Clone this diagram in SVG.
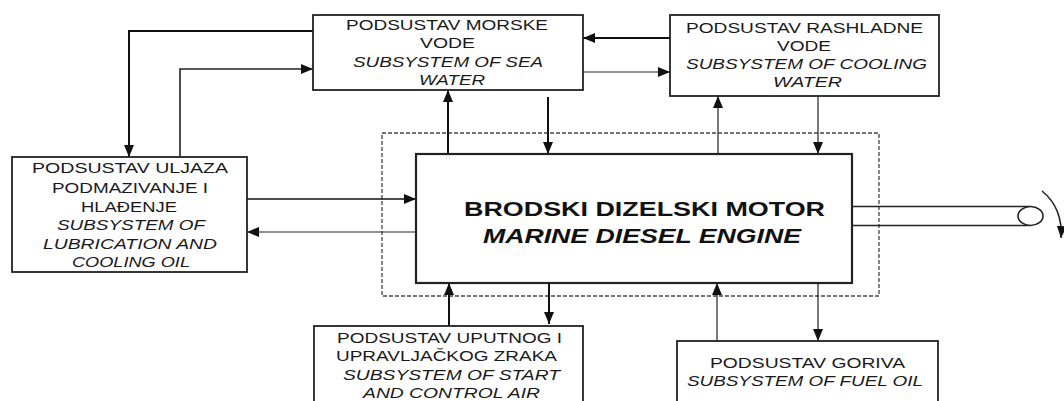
<svg xmlns="http://www.w3.org/2000/svg" width="1064" height="401" viewBox="0 0 1064 401">
<style>
.box{fill:#fff;stroke:#222;stroke-width:1.8}
.eng{fill:#fff;stroke:#222;stroke-width:2.2}
.dash{fill:none;stroke:#444;stroke-width:1.3;stroke-dasharray:4,2}
.thick{fill:none;stroke:#111;stroke-width:2}
.thin{fill:none;stroke:#222;stroke-width:1.2}
.t{font-family:"Liberation Sans",Arial,sans-serif;font-size:15.5px;fill:#1a1a1a;text-anchor:middle}
.i{font-style:italic}
.b{font-family:"Liberation Sans",Arial,sans-serif;font-size:20px;font-weight:bold;fill:#111;text-anchor:middle}
</style>
<defs>
<marker id="ah" viewBox="0 0 12 10" refX="12" refY="5" markerWidth="12" markerHeight="10" markerUnits="userSpaceOnUse" orient="auto"><path d="M0,0 L12,5 L0,10 z" fill="#111"/></marker>
</defs>
<rect class="dash" x="382" y="133" width="497" height="163"/>
<g id="connectors">
<path class="thick" d="M313,31 H129 V157" marker-end="url(#ah)"/>
<path class="thin" d="M180,157 V69 H313" marker-end="url(#ah)" style="stroke-width:1.6"/>
<path class="thick" d="M670,38 H583" marker-end="url(#ah)"/>
<path class="thin" d="M583,72 H670" marker-end="url(#ah)"/>
<path class="thick" d="M448,154 V90" marker-end="url(#ah)"/>
<path class="thick" d="M548,97 V154" marker-end="url(#ah)"/>
<path class="thin" d="M718,154 V96" marker-end="url(#ah)"/>
<path class="thin" d="M818,96 V154" marker-end="url(#ah)"/>
<path class="thick" d="M247,199 H416" marker-end="url(#ah)" style="stroke-width:1.6"/>
<path class="thin" d="M416,232 H247" marker-end="url(#ah)"/>
<path class="thick" d="M449,326 V283" marker-end="url(#ah)"/>
<path class="thick" d="M549,283 V324" marker-end="url(#ah)"/>
<path class="thin" d="M717,341 V283" marker-end="url(#ah)"/>
<path class="thin" d="M818,283 V341" marker-end="url(#ah)"/>
</g>
<g id="shaft">
<path class="thin" d="M852,206.5 H1030 M852,225.5 H1030" style="stroke-width:1.6"/>
<ellipse cx="1030.5" cy="216" rx="12.5" ry="9.5" fill="#fff" stroke="#222" stroke-width="1.6"/>
<path class="thin" d="M1042,191 Q1063,208 1061,238" marker-end="url(#ah)" style="stroke-width:1.6"/>
</g>
<g id="sea">
<rect class="box" x="313" y="15" width="270" height="75"/>
<text class="t" x="447" y="30" textLength="202" lengthAdjust="spacingAndGlyphs">PODSUSTAV MORSKE</text>
<text class="t" x="447.5" y="48" textLength="55" lengthAdjust="spacingAndGlyphs">VODE</text>
<text class="t i" x="448" y="66.5" textLength="190" lengthAdjust="spacingAndGlyphs">SUBSYSTEM OF SEA</text>
<text class="t i" x="452" y="84.5" textLength="66" lengthAdjust="spacingAndGlyphs">WATER</text>
</g>
<g id="cooling">
<rect class="box" x="670" y="15" width="269" height="81"/>
<text class="t" x="804.5" y="32.7" textLength="237" lengthAdjust="spacingAndGlyphs">PODSUSTAV RASHLADNE</text>
<text class="t" x="804" y="50.7" textLength="54" lengthAdjust="spacingAndGlyphs">VODE</text>
<text class="t i" x="806.5" y="69" textLength="241" lengthAdjust="spacingAndGlyphs">SUBSYSTEM OF COOLING</text>
<text class="t i" x="807.5" y="87" textLength="69" lengthAdjust="spacingAndGlyphs">WATER</text>
</g>
<g id="lube">
<rect class="box" x="12" y="157" width="235" height="115"/>
<text class="t" x="130" y="172.7" textLength="196" lengthAdjust="spacingAndGlyphs">PODSUSTAV ULJAZA</text>
<text class="t" x="130" y="192.5" textLength="156" lengthAdjust="spacingAndGlyphs">PODMAZIVANJE I</text>
<text class="t" x="129" y="211.5" textLength="96" lengthAdjust="spacingAndGlyphs">HLAĐENJE</text>
<text class="t i" x="131" y="230" textLength="148" lengthAdjust="spacingAndGlyphs">SUBSYSTEM OF</text>
<text class="t i" x="130" y="249" textLength="174" lengthAdjust="spacingAndGlyphs">LUBRICATION AND</text>
<text class="t i" x="131" y="266.7" textLength="118" lengthAdjust="spacingAndGlyphs">COOLING OIL</text>
</g>
<g id="engine">
<rect class="eng" x="416" y="154" width="436" height="129"/>
<text class="b" x="644.5" y="216" textLength="361" lengthAdjust="spacingAndGlyphs">BRODSKI DIZELSKI MOTOR</text>
<text class="b i" x="642" y="243" textLength="318" lengthAdjust="spacingAndGlyphs">MARINE DIESEL ENGINE</text>
</g>
<g id="startair">
<rect class="box" x="314" y="326" width="269" height="90"/>
<text class="t" x="449.5" y="342.5" textLength="225" lengthAdjust="spacingAndGlyphs">PODSUSTAV UPUTNOG I</text>
<text class="t" x="446.5" y="360.5" textLength="221" lengthAdjust="spacingAndGlyphs">UPRAVLJAČKOG ZRAKA</text>
<text class="t i" x="451.5" y="380" textLength="217" lengthAdjust="spacingAndGlyphs">SUBSYSTEM OF START</text>
<text class="t i" x="451.5" y="398" textLength="177" lengthAdjust="spacingAndGlyphs">AND CONTROL AIR</text>
</g>
<g id="fuel">
<rect class="box" x="677" y="341" width="261" height="80"/>
<text class="t" x="807.5" y="368" textLength="195" lengthAdjust="spacingAndGlyphs">PODSUSTAV GORIVA</text>
<text class="t i" x="805" y="386" textLength="236" lengthAdjust="spacingAndGlyphs">SUBSYSTEM OF FUEL OIL</text>
</g>
</svg>
